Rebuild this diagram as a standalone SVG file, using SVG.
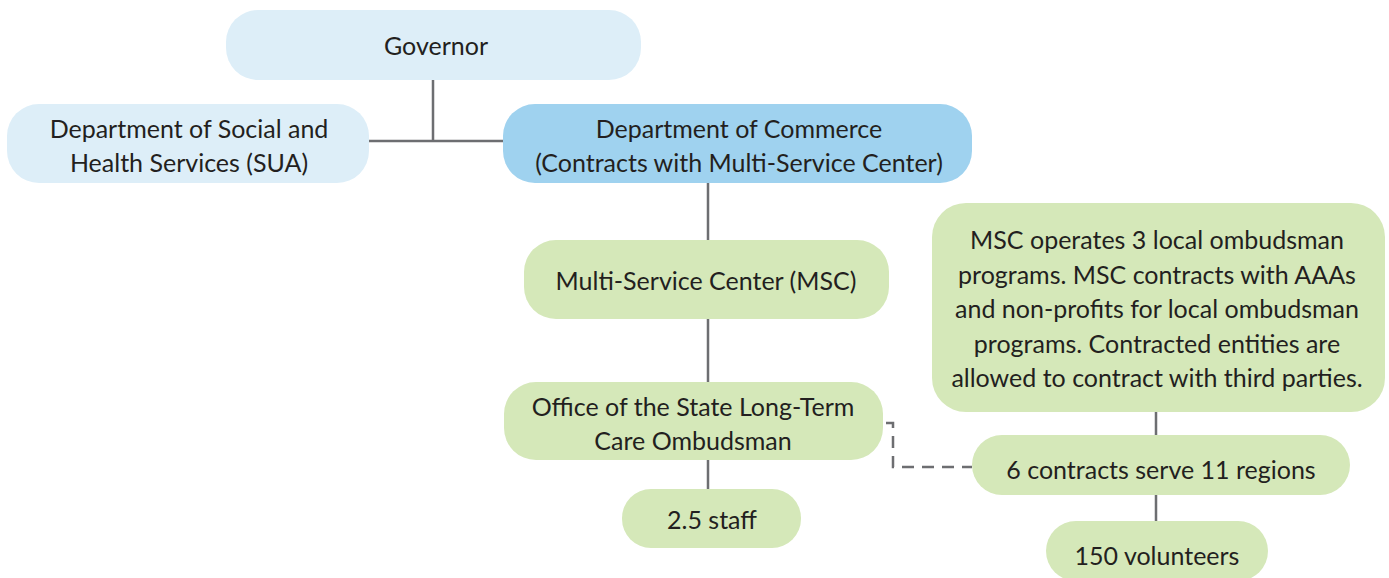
<svg xmlns="http://www.w3.org/2000/svg" width="1389" height="578" viewBox="0 0 1389 578">
<style>
.lb{fill:#ddeef8}
.db{fill:#9fd2ef}
.gr{fill:#d5e8b9}
text{font-family:Lato,"Open Sans",sans-serif;font-size:25px;fill:#231f20;text-anchor:middle}
.ln{stroke:#6d6e71;stroke-width:2.5;fill:none}
.dash{stroke:#6d6e71;stroke-width:2.5;fill:none;stroke-dasharray:12 8}
</style>
<rect width="1389" height="578" fill="#ffffff"/>
<g id="connectors">
<path class="ln" d="M433 80V141M369 141H503"/>
<path class="ln" d="M708 183V240M708 319V382M708 460V489"/>
<path class="ln" d="M1156 412V435M1156 495V521"/>
<path class="dash" d="M886 423H893V467H972"/>
</g>
<g id="governor"><rect class="lb" x="226" y="10" width="415" height="70" rx="32"/><text x="436" y="55">Governor</text></g>
<g id="dshs"><rect class="lb" x="7" y="104" width="362" height="79" rx="32"/><text x="189" y="138">Department of Social and</text><text x="189" y="172">Health Services (SUA)</text></g>
<g id="commerce"><rect class="db" x="503" y="104" width="469" height="79" rx="32"/><text x="739" y="138">Department of Commerce</text><text x="739" y="172">(Contracts with Multi-Service Center)</text></g>
<g id="msc"><rect class="gr" x="524" y="240" width="365" height="79" rx="32"/><text x="706" y="290">Multi-Service Center (MSC)</text></g>
<g id="office"><rect class="gr" x="504" y="382" width="379" height="78" rx="32"/><text x="693" y="416">Office of the State Long-Term</text><text x="693" y="450">Care Ombudsman</text></g>
<g id="staff"><rect class="gr" x="622" y="489" width="179" height="59" rx="29"/><text x="712" y="529">2.5 staff</text></g>
<g id="msc-note"><rect class="gr" x="932" y="203" width="453" height="209" rx="34"/><text x="1157" y="249">MSC operates 3 local ombudsman</text><text x="1157" y="284">programs. MSC contracts with AAAs</text><text x="1157" y="318">and non-profits for local ombudsman</text><text x="1157" y="353">programs. Contracted entities are</text><text x="1157" y="387">allowed to contract with third parties.</text></g>
<g id="contracts"><rect class="gr" x="972" y="435" width="378" height="60" rx="30"/><text x="1161" y="479">6 contracts serve 11 regions</text></g>
<g id="volunteers"><rect class="gr" x="1046" y="521" width="222" height="60" rx="30"/><text x="1157" y="565">150 volunteers</text></g>
</svg>
